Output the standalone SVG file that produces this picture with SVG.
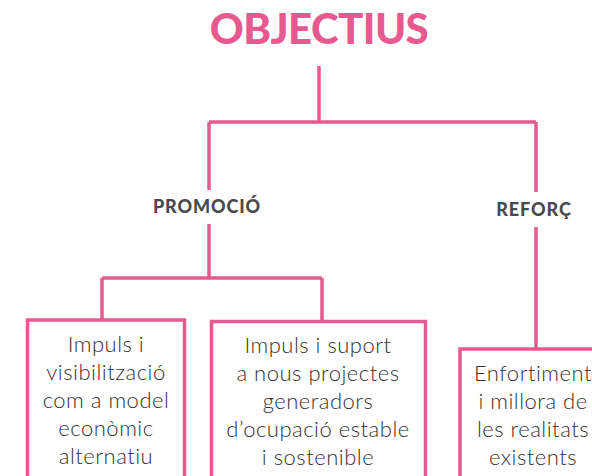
<svg xmlns="http://www.w3.org/2000/svg" width="592" height="476" viewBox="0 0 592 476">
<style>
.ln{fill:none;stroke:#E65A8F;stroke-width:3.5;}
.box{fill:#fff;stroke:#E65A8F;stroke-width:3.5;}
.title{font-family:Lato,"Liberation Sans",sans-serif;font-weight:900;font-size:42px;letter-spacing:-0.6px;fill:#E65A8F;text-anchor:middle;}
.hd{font-family:Lato,"Liberation Sans",sans-serif;font-weight:900;font-size:18px;letter-spacing:0.9px;fill:#4A4A4C;text-anchor:middle;}
.tx{font-family:Lato,"Liberation Sans",sans-serif;font-weight:300;font-size:22px;letter-spacing:0.5px;fill:#333;text-anchor:middle;}
</style>
<rect width="592" height="476" fill="#fff"/>
<g id="connectors">
<path class="ln" d="M319,66 V122 M209,122 H536 M209,122 V190 M209,224 V278 M536,122 V192 M536,227 V349 M102,278 H322 M102,278 V320 M322,278 V322"/>
</g>
<g id="title"><text class="title" x="319" y="44">OBJECTIUS</text></g>
<g id="promocio"><text class="hd" x="207" y="213">PROMOCIÓ</text></g>
<g id="reforc"><text class="hd" x="534" y="216">REFORÇ</text></g>
<g id="box1">
<rect class="box" x="27.5" y="320" width="157" height="170"/>
<text class="tx" x="106" y="352">Impuls i</text>
<text class="tx" x="106" y="380">visibilització</text>
<text class="tx" x="106" y="408">com a model</text>
<text class="tx" x="106" y="436">econòmic</text>
<text class="tx" x="106" y="464">alternatiu</text>
</g>
<g id="box2">
<rect class="box" x="211.5" y="321.5" width="214" height="170"/>
<text class="tx" x="318" y="353">Impuls i suport</text>
<text class="tx" x="318" y="381">a nous projectes</text>
<text class="tx" x="318" y="409">generadors</text>
<text class="tx" x="318" y="437">d’ocupació estable</text>
<text class="tx" x="318" y="465">i sostenible</text>
</g>
<g id="box3">
<rect class="box" x="460" y="349" width="160" height="150"/>
<text class="tx" x="533" y="381">Enfortiment</text>
<text class="tx" x="533" y="409">i millora de</text>
<text class="tx" x="533" y="437">les realitats</text>
<text class="tx" x="533" y="465">existents</text>
</g>
</svg>
